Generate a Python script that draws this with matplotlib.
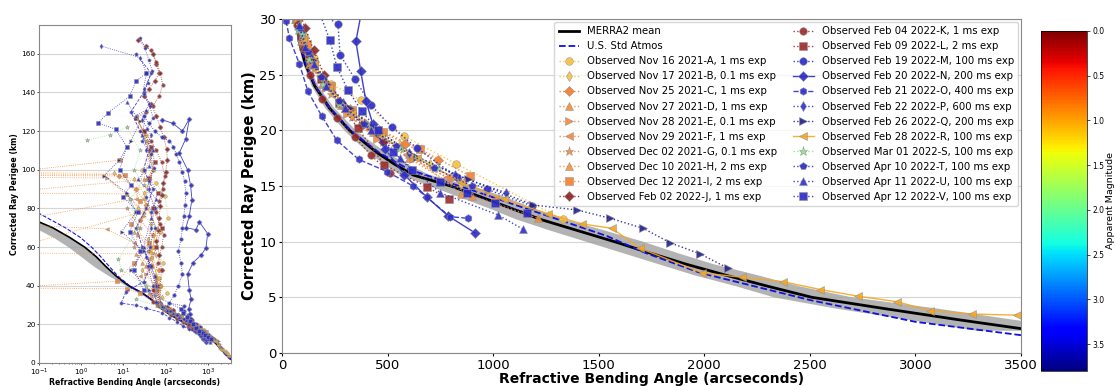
import numpy as np
import matplotlib.pyplot as plt
import matplotlib as mpl

###############################################################################
# model profiles (altitude km -> bending angle arcsec)

merra_alt = [2, 3, 4, 5, 6, 7, 8, 9, 10, 11, 12, 13, 14, 15, 16, 17, 18, 19, 20,
             22, 24, 26, 28, 30, 33, 36, 40, 42, 45, 50, 55, 60, 65, 70, 73, 76]
merra_bend = [3570, 3200, 2850, 2510, 2300, 2100, 1910, 1740, 1575, 1400, 1225,
              1085, 945, 800, 620, 530, 450, 385, 320, 225, 155, 110, 82, 66,
              45, 29, 13.4, 10, 6.7, 3.8, 2.26, 1.2, 0.53, 0.21, 0.1, 0.06]
merra_lo = [3290, 2960, 2620, 2330, 2150, 1950, 1780, 1610, 1440, 1270, 1110,
            980, 840, 700, 560, 480, 410, 350, 295, 205, 140, 100, 74, 59,
            40, 25, 11.5, 8.0, 4.6, 2.0, 1.0, 0.5, 0.22, 0.08, 0.04, 0.025]
merra_hi = [3850, 3460, 3100, 2700, 2450, 2250, 2040, 1870, 1710, 1530, 1340,
            1190, 1060, 900, 700, 590, 495, 420, 350, 248, 172, 122, 90, 72,
            49, 31, 14.2, 10.6, 7.0, 4.0, 2.4, 1.28, 0.57, 0.23, 0.11, 0.065]

usstd_alt = [1.6, 2.8, 4.76, 7.2, 9.0, 10.5, 12.5, 14.5, 16.5, 18, 20, 22, 24,
             26, 28, 30, 33, 36, 40, 45, 50, 55, 60, 65, 70, 75, 78]
usstd_bend = [3500, 3000, 2500, 1981, 1720, 1540, 1230, 920, 600, 460, 325,
              228, 158, 112, 84, 66, 46, 29, 14, 7.4, 4.6, 2.9, 1.75, 0.95,
              0.42, 0.16, 0.09]

###############################################################################
# observed occultations: bending angle (arcsec) and corrected perigee (km)

a_bend = [35, 42, 28, 60, 96, 113, 75, 50, 85, 70, 110, 78, 105, 150, 230, 374, 577, 825, 1332]
a_alt = [118, 108, 100, 93, 86.3, 75, 68, 60, 52, 44, 36, 30, 28.5, 26.5, 24.2, 22.7, 19.5, 17.0, 12.0]

b_bend = [0.01, 6, 18, 30, 22, 45, 38, 60, 28, 52, 80, 70, 95, 135, 200, 300, 420, 560, 700, 850]
b_alt = [98.7, 98.2, 95, 88, 80, 72, 64, 56, 48, 40, 34, 30, 28, 26, 24, 22, 20.5, 18.7, 17, 15.2]

c_bend = [0.01, 8, 20, 35, 25, 50, 40, 70, 55, 72, 100, 140, 205, 320, 460, 582, 740]
c_alt = [97.2, 96.8, 90, 82, 74, 66, 58, 48, 38, 30, 28.2, 26.3, 24.3, 21.9, 20.0, 18.8, 17.3]

d_bend = [35, 0.01, 12, 30, 18, 45, 28, 62, 40, 62, 90, 128, 190, 280, 410, 600, 900, 1213]
d_alt = [95, 88, 87.5, 78, 68, 60, 52, 44, 36, 30, 28, 26, 24.2, 22.3, 20.4, 17.5, 14.1, 12.1]

e_bend = [0.01, 4, 15, 30, 22, 50, 35, 70, 68, 95, 140, 210, 310, 450, 620, 800]
e_alt = [96.1, 95.8, 85, 76, 66, 57, 46, 38, 30, 28.3, 26.0, 23.8, 21.5, 19.2, 17.4, 15.6]

f_bend = [30, 20, 0.01, 4.0, 18, 40, 25, 55, 65, 92, 135, 200, 290, 430, 590, 780, 1010]
f_alt = [100, 85, 72, 69.4, 62, 54, 45, 37, 30, 28, 26, 24, 22, 19.8, 17.8, 15.8, 13.8]

g_bend = [12, 25, 18, 40, 30, 55, 70, 100, 150, 230, 330, 480]
g_alt = [80, 70, 60, 50, 42, 35, 30, 27.5, 25.5, 23.3, 21.2, 19.0]

h_bend = [45, 30, 55, 0.01, 20, 35, 60, 45, 66, 96, 140, 210, 300, 430, 600, 850]
h_alt = [110, 95, 80, 57, 56.5, 50, 42, 35, 30, 28.1, 26.2, 24.2, 22.0, 19.9, 17.9, 14.3]

i_bend = [8.3, 0.01, 10.6, 25, 15, 40, 18, 7.0, 0.01, 12, 25, 70, 117, 150, 230, 330, 480, 654, 891]
i_alt = [105, 98.0, 97.5, 84, 72, 62, 52, 42.3, 38.8, 38.5, 36, 30, 27.8, 26.0, 24.0, 21.8, 19.9, 18.3, 15.9]

j_bend = [22, 35, 50, 60, 70, 55, 40, 30, 45, 60, 75, 90, 105, 110, 100, 88, 80, 75, 70,
          65, 60, 70, 80, 75, 75, 110, 150, 200, 280, 380, 480]
j_alt = [167, 164, 160, 155, 150, 146, 142, 138, 134, 128, 122, 117, 111, 105, 99, 93, 87,
         81, 75, 69, 63, 56, 48, 40, 31, 29.2, 27.2, 25.0, 22.5, 20.5, 19.0]

k_bend = [45, 60, 75, 85, 70, 50, 35, 20, 30, 45, 60, 80, 95, 85, 70, 60, 75, 90, 80, 65,
          55, 50, 50, 70, 100, 135, 190, 260, 345, 420, 510]
k_alt = [162, 156, 150, 144, 138, 133, 130, 127, 120, 115, 110, 104, 97, 90, 84, 78, 72,
         66, 60, 52, 45, 38, 31.5, 29.5, 27.3, 25.0, 22.8, 21.1, 19.4, 17.8, 16.2]

l_bend = [20, 30, 45, 55, 40, 65, 50, 80, 60, 45, 70, 66, 92, 128, 185, 270, 360, 484, 689, 789]
l_alt = [127, 120, 112, 104, 96, 88, 80, 70, 60, 50, 40, 30.5, 28.5, 26.6, 24.6, 22.5, 20.2,
         16.9, 14.9, 13.8]

m_bend = [30, 40, 55, 80, 120, 150, 180, 210, 250, 280, 300, 290, 270, 250, 230, 200, 230,
          250, 200, 160, 120, 265, 275, 346, 420, 520, 640, 829, 972, 1185]
m_alt = [128, 124, 120, 117, 115, 112, 108, 104, 99, 94, 88, 82, 76, 70, 64, 58, 52, 46,
         40, 35, 31, 29.6, 26.8, 24.6, 22.3, 20.3, 18.4, 15.8, 14.7, 13.2]

n_bend = [80, 150, 250, 363, 300, 210, 330, 390, 420, 363, 302, 520, 630, 990, 900, 700,
          450, 330, 363, 400, 350, 373, 398, 430, 490, 580, 686, 788, 914]
n_alt = [126, 124, 120, 126.3, 116, 108.7, 100, 92, 84.6, 76, 70, 69, 73, 67, 59.5, 56,
         52, 46, 38, 33, 28.0, 25.3, 22.6, 20.6, 18.3, 16.0, 14.0, 12.3, 10.8]

o_bend = [20, 45, 30, 15, 25, 40, 30, 50, 35, 20, 28, 45, 30, 11.6, 8.8, 20, 35, 82, 123,
          188, 260, 363, 497, 621, 686, 796, 882]
o_alt = [160, 150, 140, 130, 120, 110, 100, 90, 80, 70, 60, 50, 42, 37, 31, 29.8, 28.3,
         26.0, 23.5, 21.3, 19.1, 17.4, 16.3, 15.0, 14.0, 12.25, 12.1]

p_bend = [3.0, 25, 35, 30, 40, 28, 45, 35, 50, 40, 55, 45, 35, 60, 68, 95, 135, 200, 290,
          420, 600, 820, 1062]
p_alt = [164, 158, 150, 142, 134, 126, 118, 110, 100, 90, 80, 70, 55, 40, 31, 28.8, 26.7,
         24.6, 22.5, 20.4, 18.0, 16.0, 14.4]

q_bend = [25, 15, 8, 3.5, 12, 20, 9, 30, 15, 40, 70, 98, 145, 215, 320, 460, 640, 880,
          1190, 1398, 1555, 1711, 1839, 1981, 2114]
q_alt = [125, 115, 105, 97, 88, 78, 68, 58, 48, 38, 30.5, 28.4, 26.3, 24.2, 22.0, 19.9,
         17.6, 15.6, 13.3, 12.85, 12.1, 11.2, 9.9, 8.9, 7.6]

r_bend = [20, 35, 50, 30, 60, 45, 75, 70, 100, 150, 225, 330, 470, 640, 850, 1050, 1262,
          1421, 1563, 1697, 1990, 2180, 2375, 2550, 2730, 2914, 3071, 3270, 3483]
r_alt = [128, 115, 100, 85, 70, 55, 40, 30.5, 28.2, 26.0, 23.8, 21.6, 19.5, 17.5, 15.4,
         13.8, 12.5, 11.6, 11.2, 9.4, 7.2, 6.8, 6.4, 5.7, 5.1, 4.6, 3.8, 3.5, 3.4]

s_bend = [1.36, 4.7, 12, 25, 18, 30, 14, 22, 7.6, 8.8, 35, 20, 77, 95, 130, 195, 270, 400,
          560, 740]
s_alt = [115.3, 118, 122, 110, 100, 92, 85, 70, 53.8, 48.3, 40, 33, 29.0, 28.7, 26.4,
         24.2, 22.4, 20.6, 18.4, 16.6]

t_bend = [25, 32, 40, 48, 38, 30, 42, 50, 36, 28, 44, 52, 40, 35, 45, 55, 42, 38, 50, 60,
          85, 125, 185, 270, 390, 540, 720, 900]
t_alt = [168, 163, 157, 151, 145, 139, 133, 127, 121, 115, 108, 101, 94, 86, 78, 70, 60,
         50, 40, 31.5, 29.2, 27.0, 24.8, 22.6, 20.6, 18.6, 16.6, 15.0]

u_bend = [12, 20, 35, 28, 50, 40, 22, 60, 45, 30, 55, 80, 110, 150, 210, 300, 420, 560,
          749, 1024, 1143]
u_alt = [135, 128, 131, 118, 110, 102, 95, 85, 75, 60, 45, 29.5, 27.5, 26.0, 24.0, 22.0,
         20.0, 17.5, 14.4, 12.4, 11.1]

v_bend = [35, 20, 14, 4.3, 2.5, 6.5, 12, 8.1, 15, 10, 22, 14, 25, 18, 30, 227, 260, 313,
          379, 455, 526, 616, 749, 877, 1009, 1161]
v_alt = [150, 146, 138, 129.4, 124.2, 121, 112, 100, 92, 86, 78, 68, 58, 48, 38, 28.1,
         25.7, 23.6, 21.7, 20.0, 18.1, 16.4, 15.4, 14.4, 13.5, 12.6]

labels = ["Observed Nov 16 2021-A, 1 ms exp", "Observed Nov 17 2021-B, 0.1 ms exp",
          "Observed Nov 25 2021-C, 1 ms exp", "Observed Nov 27 2021-D, 1 ms exp",
          "Observed Nov 28 2021-E, 0.1 ms exp", "Observed Nov 29 2021-F, 1 ms exp",
          "Observed Dec 02 2021-G, 0.1 ms exp", "Observed Dec 10 2021-H, 2 ms exp",
          "Observed Dec 12 2021-I, 2 ms exp", "Observed Feb 02 2022-J, 1 ms exp",
          "Observed Feb 04 2022-K, 1 ms exp", "Observed Feb 09 2022-L, 2 ms exp",
          "Observed Feb 19 2022-M, 100 ms exp", "Observed Feb 20 2022-N, 200 ms exp",
          "Observed Feb 21 2022-O, 400 ms exp", "Observed Feb 22 2022-P, 600 ms exp",
          "Observed Feb 26 2022-Q, 200 ms exp", "Observed Feb 28 2022-R, 100 ms exp",
          "Observed Mar 01 2022-S, 100 ms exp", "Observed Apr 10 2022-T, 100 ms exp",
          "Observed Apr 11 2022-U, 100 ms exp", "Observed Apr 12 2022-V, 100 ms exp"]

###############################################################################
# styles

obs = [(a_bend, a_alt), (b_bend, b_alt), (c_bend, c_alt), (d_bend, d_alt),
       (e_bend, e_alt), (f_bend, f_alt), (g_bend, g_alt), (h_bend, h_alt),
       (i_bend, i_alt), (j_bend, j_alt), (k_bend, k_alt), (l_bend, l_alt),
       (m_bend, m_alt), (n_bend, n_alt), (o_bend, o_alt), (p_bend, p_alt),
       (q_bend, q_alt), (r_bend, r_alt), (s_bend, s_alt), (t_bend, t_alt),
       (u_bend, u_alt), (v_bend, v_alt)]

orange = '#f4802e'
blue = '#2b2bc8'
styles = [('o', '#f8c03a', ':'), ('d', '#f5c342', ':'), ('D', '#f47a2a', ':'),
          ('^', '#f48c3a', ':'), ('>', '#f48a3a', ':'), ('<', '#f4873c', ':'),
          ('*', '#ef8c46', ':'), ('^', '#f5913a', ':'), ('s', orange, ':'),
          ('D', '#8e2222', ':'), ('o', '#9c2b2b', ':'), ('s', '#9c2b2b', ':'),
          ('o', blue, ':'), ('D', blue, '-'), ('h', '#3030d0', '--'),
          ('d', '#3030d0', ':'), ('>', '#23238e', ':'), ('<', '#f5a623', '-'),
          ('*', '#8fe38f', ':'), ('p', blue, ':'), ('^', '#3030d0', ':'),
          ('s', blue, ':')]


def draw(ax, ms, lw):
    ax.fill_betweenx(merra_alt, merra_lo, merra_hi, color='#a0a0a0', alpha=0.8, lw=0)
    ax.plot(merra_bend, merra_alt, color='k', lw=2 * lw, label='MERRA2 mean')
    ax.plot(usstd_bend, usstd_alt, color='#1010e0', ls='--', lw=1.3 * lw,
            label='U.S. Std Atmos')
    for (x, y), (mk, col, ls), lab in zip(obs, styles, labels):
        s = ms * 1.2 if mk == '*' else ms
        ax.plot(x, y, marker=mk, color=col, ls=ls, lw=lw, ms=s, mec='#909090',
                mew=0.4, alpha=0.9, label=lab)
    ax.grid(axis='y', color='#d5d5d5', lw=0.8)
    ax.set_axisbelow(True)
    for sp in ax.spines.values():
        sp.set_color('#888888')


fig = plt.figure(figsize=(11.15, 3.86), dpi=100)

# left: full profile, log scale
ax1 = fig.add_axes([0.035, 0.0596, 0.172, 0.876])
draw(ax1, 2.6, 0.6)
ax1.set_xscale('log')
ax1.set_xlim(0.1, 3500)
ax1.set_ylim(0, 175)
ax1.set_yticks(np.arange(0, 161, 20))
ax1.tick_params(labelsize=5.3, length=1.5, width=0.5, pad=1)
ax1.tick_params(which='minor', length=1, width=0.4)
ax1.set_xlabel('Refractive Bending Angle (arcseconds)', fontsize=5.6,
               fontweight='bold', labelpad=0.5)
ax1.set_ylabel('Corrected Ray Perigee (km)', fontsize=5.6, fontweight='bold',
               labelpad=2)

# right: zoom on lower atmosphere
ax2 = fig.add_axes([0.2529, 0.0855, 0.6628, 0.865])
draw(ax2, 5.5, 1.0)
ax2.set_xlim(0, 3500)
ax2.set_ylim(0, 30)
ax2.tick_params(labelsize=9.5, length=2.5, pad=1.5)
ax2.set_xlabel('Refractive Bending Angle (arcseconds)', fontsize=10,
               fontweight='bold', labelpad=0)
ax2.set_ylabel('Corrected Ray Perigee (km)', fontsize=10.5, fontweight='bold',
               labelpad=2)
leg = ax2.legend(loc='upper right', ncol=2, fontsize=7.3, borderaxespad=0.3,
                 labelspacing=0.5, columnspacing=1.6, handlelength=2.0)

# colorbar
cax = fig.add_axes([0.9336, 0.0389, 0.0413, 0.881])
sm = mpl.cm.ScalarMappable(norm=mpl.colors.Normalize(0, 3.8), cmap='jet_r')
cb = fig.colorbar(sm, cax=cax)
cb.ax.invert_yaxis()
cb.set_ticks(np.arange(0, 3.6, 0.5))
cb.ax.tick_params(labelsize=5.5, length=2.5, width=0.5, pad=1.5)
cb.set_label('Apparent Magnitude', fontsize=6.8, labelpad=1)
cb.outline.set_linewidth(0.5)

plt.savefig('out.png', dpi=100)
